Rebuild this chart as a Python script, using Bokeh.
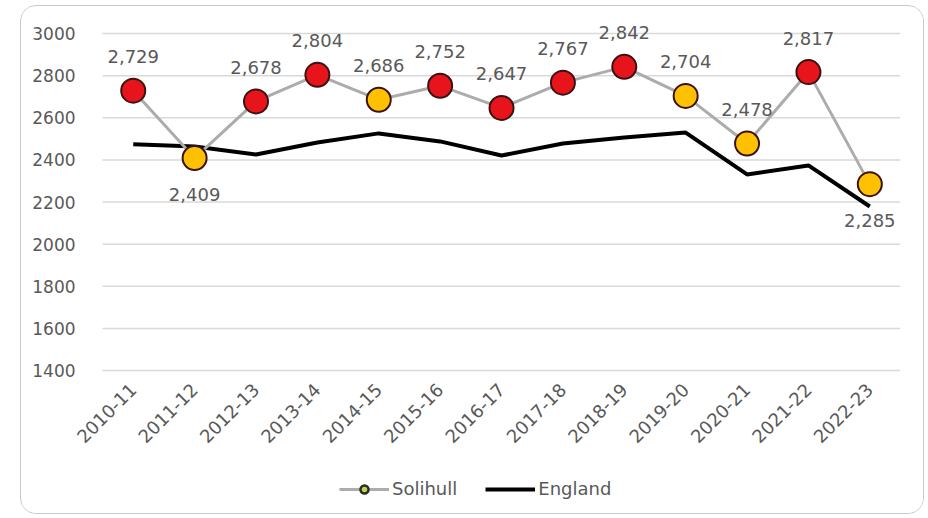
import math
from bokeh.plotting import figure
from bokeh.models import Range1d, Legend, LegendItem, ColumnDataSource, FixedTicker
from bokeh.embed import file_html
from bokeh.resources import INLINE
from bokeh.core.properties import value

# ---------------- data ----------------
years = ["2010-11", "2011-12", "2012-13", "2013-14", "2014-15", "2015-16", "2016-17",
         "2017-18", "2018-19", "2019-20", "2020-21", "2021-22", "2022-23"]
solihull = [2729, 2409, 2678, 2804, 2686, 2752, 2647, 2767, 2842, 2704, 2478, 2817, 2285]
england = [2474, 2464, 2426, 2483, 2526, 2488, 2421, 2478, 2507, 2530, 2331, 2374, 2179]
# comparison to England: "higher" (red) or "similar" (amber)
comparison = ["higher", "similar", "higher", "higher", "similar", "higher", "higher",
              "higher", "higher", "similar", "similar", "higher", "similar"]
y_ticks = [1400, 1600, 1800, 2000, 2200, 2400, 2600, 2800, 3000]

# ---------------- style ----------------
FONT = "DejaVu Sans"
TXT = "#595959"
comp_colors = {"higher": "#e8141c", "similar": "#ffc000"}
below_labels = {"2011-12", "2022-23"}

n = len(years)
idx = list(range(n))
cat_lo, cat_hi = -0.5, n - 0.5          # edges of the category band

src = ColumnDataSource(dict(
    x=idx,
    y=solihull,
    color=[comp_colors[c] for c in comparison],
    label=["{:,}".format(v) for v in solihull],
    yoff=[36 if yr in below_labels else -34 for yr in years],
))

# frame covers the whole box interior; axes are pinned inside it
p = figure(
    frame_width=871, frame_height=492,
    x_range=Range1d(cat_lo - 1.19, cat_hi),
    y_range=Range1d(745, 3081),
    output_backend="svg", toolbar_location=None,
    min_border_left=8, min_border_top=10, min_border_right=23, min_border_bottom=5,
)
p.margin = (5, 0, 0, 20)
p.styles = {"border": "1.5px solid #c8c8c8", "border-radius": "16px", "overflow": "hidden"}
p.background_fill_color = "white"
p.border_fill_color = "white"
p.outline_line_color = None
p.xgrid.grid_line_color = None
p.ygrid.grid_line_color = None

# horizontal gridlines across the category band only
p.segment(x0=[cat_lo] * len(y_ticks), x1=[cat_hi] * len(y_ticks), y0=y_ticks, y1=y_ticks,
          line_color="#d9d9d9", line_width=1.5)

p.yaxis.ticker = FixedTicker(ticks=y_ticks)
p.yaxis.fixed_location = cat_lo
p.xaxis.ticker = FixedTicker(ticks=idx)
p.xaxis.major_label_overrides = {i: yr for i, yr in zip(idx, years)}
p.xaxis.fixed_location = y_ticks[0]

for ax in (p.xaxis[0], p.yaxis[0]):
    ax.axis_line_color = None
    ax.major_tick_line_color = None
    ax.minor_tick_line_color = None
    ax.major_label_text_color = TXT
    ax.major_label_text_font = FONT
p.yaxis.major_label_text_font_size = "17px"
p.yaxis.major_label_standoff = 21
p.xaxis.major_label_text_font_size = "18px"
p.xaxis.major_label_orientation = math.pi / 4
p.xaxis.major_label_standoff = 10

eng = p.line(idx, england, line_color="black", line_width=4)
sol = p.line("x", "y", source=src, line_color="#acacac", line_width=3)
p.scatter("x", "y", source=src, size=24, fill_color="color",
          line_color="#3b1212", line_width=2)

p.text("x", "y", text="label", source=src, y_offset="yoff",
       text_align="center", text_baseline="middle",
       text_font=value(FONT), text_font_size="18px", text_color=TXT)

# legend-only marker (value is missing, so nothing is drawn in the plot)
leg_src = ColumnDataSource(dict(x=[0], y=[float("nan")]))
leg_marker = p.scatter("x", "y", source=leg_src, size=15, fill_color="#c6d24a",
                       line_color="#2a2a2a", line_width=2.5)

legend = Legend(items=[
    LegendItem(label="Solihull", renderers=[sol, leg_marker]),
    LegendItem(label="England", renderers=[eng]),
], orientation="horizontal", location=(310, 9))
legend.label_text_font = FONT
legend.label_text_font_size = "18px"
legend.label_text_color = TXT
legend.glyph_width = 50
legend.glyph_height = 20
legend.spacing = 28
legend.label_standoff = 3
legend.border_line_color = None
legend.background_fill_alpha = 0
legend.margin = 0
legend.padding = 6
p.add_layout(legend, "center")

open("out.html", "w").write(file_html(p, INLINE))
